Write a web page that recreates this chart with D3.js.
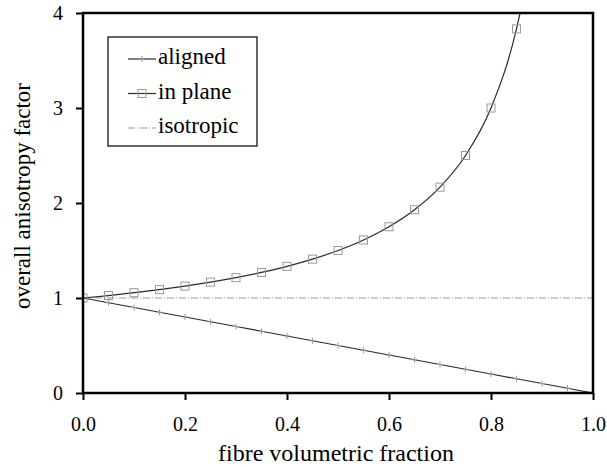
<!DOCTYPE html>
<html>
<head>
<meta charset="utf-8">
<script src="https://cdn.jsdelivr.net/npm/d3@7"></script>
<style>
  body { margin: 0; background: #fff; }
  svg { display: block; font-family: "Liberation Serif", "Times New Roman", serif; }
</style>
</head>
<body>
<svg width="607" height="467"></svg>
<script>
const width = 607;
const height = 467;
const margin = {top: 13, right: 14, bottom: 74, left: 83};

// fibre volumetric fraction (x) at each marker
const fractions = [0, 0.05, 0.1, 0.15, 0.2, 0.25, 0.3, 0.35, 0.4, 0.45, 0.5,
                   0.55, 0.6, 0.65, 0.7, 0.75, 0.8, 0.85, 0.9, 0.95, 1.0];
// aligned
const aligned = [1.0, 0.95, 0.9, 0.85, 0.8, 0.75, 0.7, 0.65, 0.6, 0.55, 0.5,
                 0.45, 0.4, 0.35, 0.3, 0.25, 0.2, 0.15, 0.1, 0.05, 0.0];
// in plane: markers up to 0.85, curve leaves the top at ~0.857
const inPlaneX = [0, 0.05, 0.1, 0.15, 0.2, 0.25, 0.3, 0.35, 0.4, 0.45, 0.5,
                  0.55, 0.6, 0.65, 0.7, 0.75, 0.8, 0.85];
const inPlane = [1.0, 1.026, 1.056, 1.088, 1.125, 1.167, 1.214, 1.269, 1.333, 1.409, 1.5,
                 1.611, 1.75, 1.929, 2.167, 2.5, 3.0, 3.833];
const inPlaneEnd = [0.857, 4.0];
const isotropic = [[0, 1], [1, 1]];

const xTicks = [0, 0.2, 0.4, 0.6, 0.8, 1.0];
const yTicks = [0, 1, 2, 3, 4];

const svg = d3.select("svg");

const x = d3.scaleLinear().domain([0, 1]).range([margin.left, width - margin.right]);
const y = d3.scaleLinear().domain([0, 4]).range([height - margin.bottom, margin.top]);

const lineCol = "#2a2a2a";
const markCol = "#9a9a9a";

// 曲线
const line = d3.line().x(d => x(d[0])).y(d => y(d[1]));
const smooth = d3.line().x(d => x(d[0])).y(d => y(d[1])).curve(d3.curveMonotoneX);

svg.append("clipPath").attr("id", "clip")
  .append("rect")
  .attr("x", x(0)).attr("y", y(4))
  .attr("width", x(1) - x(0)).attr("height", y(0) - y(4));

const plot = svg.append("g").attr("clip-path", "url(#clip)");

// isotropic
plot.append("path")
  .attr("d", line(isotropic))
  .attr("fill", "none")
  .attr("stroke", markCol)
  .attr("stroke-width", 1)
  .attr("stroke-dasharray", "7,2,1,2");

// aligned
const alignedPts = fractions.map((f, i) => [f, aligned[i]]);
plot.append("path")
  .attr("d", line(alignedPts))
  .attr("fill", "none")
  .attr("stroke", lineCol)
  .attr("stroke-width", 1.2);

plot.selectAll("path.plus")
  .data(alignedPts)
  .enter().append("path")
  .attr("class", "plus")
  .attr("d", d => `M${x(d[0]) - 3},${y(d[1])}h6M${x(d[0])},${y(d[1]) - 3}v6`)
  .attr("stroke", markCol)
  .attr("stroke-width", 1);

// in plane
const inPlanePts = inPlaneX.map((f, i) => [f, inPlane[i]]);
plot.append("path")
  .attr("d", smooth(inPlanePts.concat([inPlaneEnd])))
  .attr("fill", "none")
  .attr("stroke", lineCol)
  .attr("stroke-width", 1.2);

plot.selectAll("rect.sq")
  .data(inPlanePts)
  .enter().append("rect")
  .attr("class", "sq")
  .attr("x", d => x(d[0]) - 4)
  .attr("y", d => y(d[1]) - 4)
  .attr("width", 8).attr("height", 8)
  .attr("fill", "none")
  .attr("stroke", markCol)
  .attr("stroke-width", 1);

// 坐标轴
const xAxis = svg.append("g")
  .attr("transform", `translate(0,${y(0)})`)
  .call(d3.axisBottom(x).tickValues(xTicks).tickFormat(d3.format(".1f")).tickSize(7).tickPadding(17));
const yAxis = svg.append("g")
  .attr("transform", `translate(${x(0)},0)`)
  .call(d3.axisLeft(y).tickValues(yTicks).tickFormat(d3.format("d")).tickSize(7).tickPadding(13));

[xAxis, yAxis].forEach(a => {
  a.select(".domain").remove();
  a.selectAll("line").attr("stroke", "#000").attr("stroke-width", 2);
  a.selectAll("text").attr("fill", "#000").attr("font-size", 20)
    .attr("font-family", "Liberation Serif, serif");
});

// 边框
svg.append("rect")
  .attr("x", x(0)).attr("y", y(4))
  .attr("width", x(1) - x(0)).attr("height", y(0) - y(4))
  .attr("fill", "none").attr("stroke", "#000").attr("stroke-width", 2.5);

// 轴标题
svg.append("text")
  .attr("x", (x(0) + x(1)) / 2 - 2).attr("y", 461)
  .attr("text-anchor", "middle").attr("font-size", 24)
  .text("fibre volumetric fraction");
svg.append("text")
  .attr("transform", "translate(30,196) rotate(-90)")
  .attr("text-anchor", "middle").attr("font-size", 23)
  .text("overall anisotropy factor");

// 图例
const legend = svg.append("g");
legend.append("rect")
  .attr("x", 108).attr("y", 37).attr("width", 149).attr("height", 109)
  .attr("fill", "#fff").attr("stroke", "#000").attr("stroke-width", 1.2);

const legendItems = [
  {label: "aligned", type: "plus"},
  {label: "in plane", type: "sq"},
  {label: "isotropic", type: "iso"}
];
legendItems.forEach((it, i) => {
  const ly = 59 + i * 34.5;
  const g = legend.append("g");
  if (it.type === "iso") {
    g.append("line").attr("x1", 128).attr("x2", 156).attr("y1", ly).attr("y2", ly)
      .attr("stroke", markCol).attr("stroke-dasharray", "7,2,1,2");
  } else {
    g.append("line").attr("x1", 128).attr("x2", 156).attr("y1", ly).attr("y2", ly)
      .attr("stroke", lineCol).attr("stroke-width", 1.2);
    if (it.type === "plus") {
      g.append("path").attr("d", `M139,${ly}h6M142,${ly - 3}v6`)
        .attr("stroke", markCol);
    } else {
      g.append("rect").attr("x", 138).attr("y", ly - 4).attr("width", 8).attr("height", 8)
        .attr("fill", "none").attr("stroke", markCol);
    }
  }
  g.append("text").attr("x", 158).attr("y", ly + 5)
    .attr("font-size", 23).text(it.label);
});
</script>
</body>
</html>
